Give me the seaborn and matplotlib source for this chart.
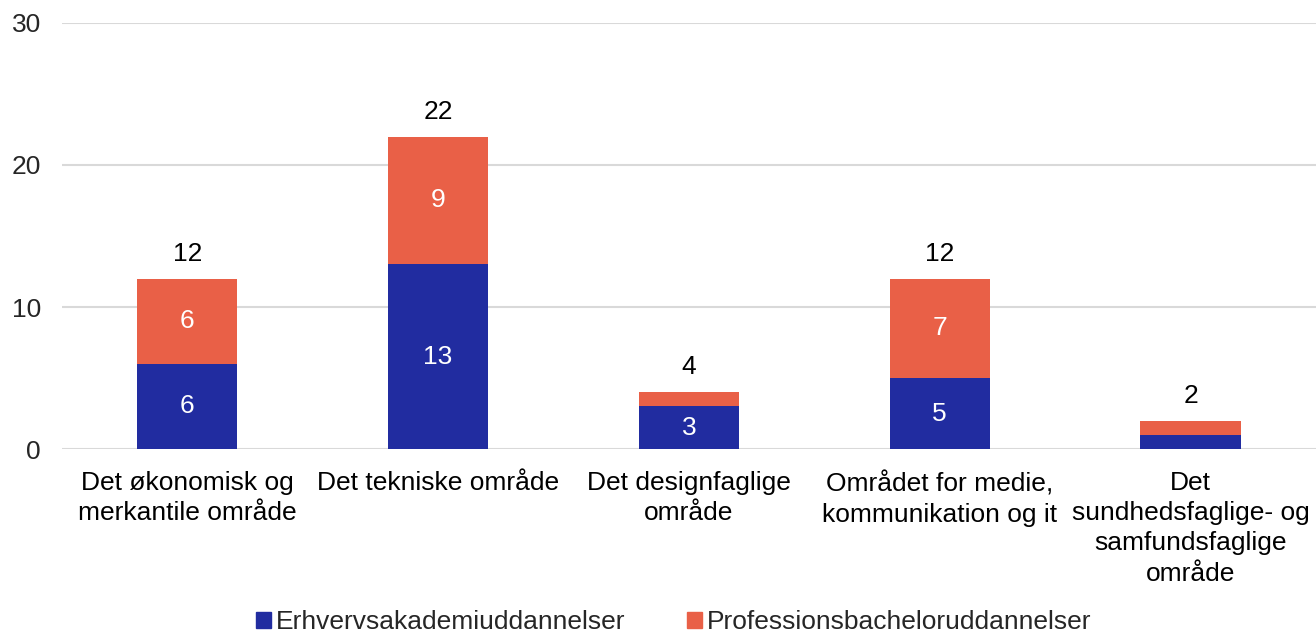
import matplotlib
matplotlib.use("Agg")
import matplotlib.pyplot as plt
import seaborn as sns
import pandas as pd
from matplotlib.patches import Patch

# data
categories = ["Det økonomisk og\nmerkantile område",
              "Det tekniske område",
              "Det designfaglige\nområde",
              "Området for medie,\nkommunikation og it",
              "Det\nsundhedsfaglige- og\nsamfundsfaglige\nområde"]
erhverv = [6, 13, 3, 5, 1]
profession = [6, 9, 1, 7, 1]
series_names = ["Erhvervsakademiuddannelser", "Professionsbacheloruddannelser"]

blue = "#212ca0"
orange = "#e96047"
fs = 19

df = pd.DataFrame({"kategori": categories, "erhverv": erhverv, "profession": profession})
df["total"] = df["erhverv"] + df["profession"]

sns.set_style("white")
plt.rcParams["font.family"] = ["Liberation Sans", "DejaVu Sans"]

fig = plt.figure(figsize=(13.16, 6.37), dpi=100)
ax = fig.add_axes([0.047, 0.295, 0.953, 0.669])

# stacked bars: total in orange, lower part in blue over it
sns.barplot(data=df, x="kategori", y="total", color=orange, width=0.4, ax=ax,
            saturation=1, linewidth=0)
sns.barplot(data=df, x="kategori", y="erhverv", color=blue, width=0.4, ax=ax,
            saturation=1, linewidth=0)

for i, row in df.iterrows():
    if row["erhverv"] >= 2:
        ax.text(i, row["erhverv"] / 2, str(row["erhverv"]), ha="center", va="center",
                color="white", fontsize=fs)
    if row["profession"] >= 2:
        ax.text(i, row["erhverv"] + row["profession"] / 2, str(row["profession"]),
                ha="center", va="center", color="white", fontsize=fs)
    ax.text(i, row["total"] + 0.9, str(row["total"]), ha="center", va="bottom",
            color="black", fontsize=fs)

ax.set_ylim(0, 30)
ax.set_xlim(-0.5, 4.5)
ax.set_yticks([0, 10, 20, 30])
ax.yaxis.grid(True, color="#d9d9d9", linewidth=1.5)
ax.set_axisbelow(True)
for s in ax.spines.values():
    s.set_visible(False)
ax.set_xlabel("")
ax.set_ylabel("")
ax.tick_params(axis="both", length=0, labelsize=fs, colors="#262626")
ax.tick_params(axis="x", pad=16, labelcolor="black")
ax.tick_params(axis="y", pad=15)
for lab in ax.get_xticklabels():
    lab.set_linespacing(1.32)

handles = [Patch(color=blue), Patch(color=orange)]
fig.legend(handles, series_names, loc="lower center", bbox_to_anchor=(0.512, -0.033),
           ncol=2, frameon=False, fontsize=fs, handlelength=0.55, handleheight=0.55,
           handletextpad=0.2, columnspacing=2.35)

fig.savefig("out.png", dpi=100)
